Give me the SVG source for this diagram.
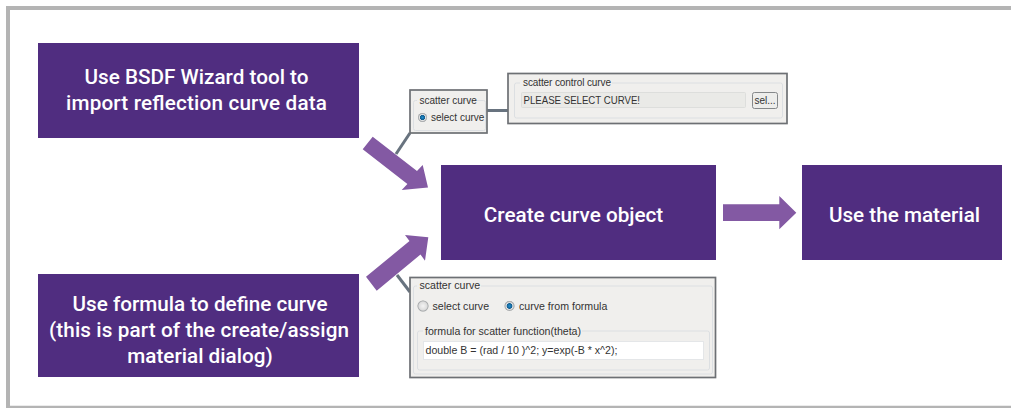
<svg xmlns="http://www.w3.org/2000/svg" width="1011" height="408" viewBox="0 0 1011 408">
<style>
.box{fill:#502d80}
.t{font-family:Roboto,"Liberation Sans",sans-serif;font-size:20.700px;font-weight:500;fill:#fff;text-anchor:middle}
.arrow{fill:#8359a3}
.panel{fill:#f0efed;stroke:#6d7074;stroke-width:1.700}
.link{fill:none;stroke:#68737f;stroke-width:3}
.ui{font-family:"Liberation Sans",Arial,sans-serif;font-size:10px;fill:#333}
.ui2{font-family:"Liberation Sans",Arial,sans-serif;font-size:10.600px;fill:#333}
.grp{fill:none;stroke:#dcdfe2;stroke-width:1}
.field{fill:#eaeae7;stroke:#dddedc}
.gap{fill:#f0efed}
</style>
<defs>
<radialGradient id="radioOn"><stop offset="0" stop-color="#1f8fd0"/><stop offset=".5" stop-color="#145f92"/><stop offset=".65" stop-color="#e8e8e8"/><stop offset="1" stop-color="#8f9396"/></radialGradient>
<radialGradient id="radioOff"><stop offset="0" stop-color="#f4f4f4"/><stop offset=".75" stop-color="#dcdcdc"/><stop offset="1" stop-color="#8f9396"/></radialGradient>
</defs>
<rect width="1011" height="408" fill="#fff"/>
<path d="M1011 8H8V408" fill="none" stroke="#b4b4b4" stroke-width="4"/>
<path d="M8 407H1011" fill="none" stroke="#b4b4b4" stroke-width="2.500"/>
<g id="connectors">
<path class="link" d="M410 133L396 154"/>
<path class="link" d="M487 110.500H508"/>
<path class="link" d="M397 275L410 292"/>
<polygon class="arrow" points="372.700,136.700 362.700,149.300 407.400,183.900 401.700,190 428,187.500 422.700,165 417,171.100"/>
<polygon class="arrow" points="366,276.700 376.700,290.700 420.500,254.500 425,260.700 428.300,237.300 405,235 409.500,241.100"/>
<polygon class="arrow" points="723,204.300 779.300,204.300 779.300,196 796.300,212.700 779.300,229.300 779.300,221 723,221"/>
</g>
<g id="node-bsdf"><rect class="box" x="38" y="43" width="321" height="95"/><text class="t" x="196.500" y="83.500">Use BSDF Wizard tool to</text><text class="t" x="196.500" y="109.500" textLength="261" lengthAdjust="spacing">import reflection curve data</text></g>
<g id="node-create"><rect class="box" x="441" y="165" width="275" height="95"/><text class="t" x="573.500" y="221.500">Create curve object</text></g>
<g id="node-use"><rect class="box" x="802" y="165" width="200" height="95"/><text class="t" x="904.500" y="221.500">Use the material</text></g>
<g id="node-formula"><rect class="box" x="38" y="274" width="321" height="103"/><text class="t" x="200" y="310.500">Use formula to define curve</text><text class="t" x="199" y="336.500" textLength="300" lengthAdjust="spacing">(this is part of the create/assign</text><text class="t" x="200" y="362.500">material dialog)</text></g>
<g id="panel-select">
<rect class="panel" x="410" y="90" width="77" height="43"/>
<rect class="grp" x="413.500" y="100.500" width="72" height="30" rx="2"/>
<rect class="gap" x="417" y="96" width="45" height="10"/>
<text class="ui" x="419.500" y="104">scatter curve</text>
<circle cx="422.500" cy="117.500" r="4.500" fill="url(#radioOn)"/>
<text class="ui" x="431" y="121">select curve</text>
</g>
<g id="panel-control">
<rect class="panel" x="508" y="73.500" width="279" height="50"/>
<rect class="grp" x="514.500" y="83" width="268" height="35" rx="2"/>
<rect class="gap" x="520" y="78" width="92" height="10"/>
<text class="ui" x="523" y="86" textLength="88" lengthAdjust="spacing">scatter control curve</text>
<rect class="field" x="521.500" y="92.500" width="224" height="15" rx="1"/>
<text class="ui" x="523.500" y="103.500" textLength="116.500" lengthAdjust="spacingAndGlyphs">PLEASE SELECT CURVE!</text>
<rect x="752.500" y="92.500" width="25" height="16" rx="2" fill="#ededeb" stroke="#85888a"/>
<text class="ui" x="754.500" y="104">sel...</text>
</g>
<g id="panel-formula">
<rect class="panel" x="410" y="277.500" width="305.500" height="100"/>
<rect class="grp" x="413.500" y="286" width="299" height="88" rx="2"/>
<rect class="gap" x="417" y="280" width="64" height="10"/>
<text class="ui2" x="419.500" y="289">scatter curve</text>
<circle cx="423" cy="306" r="5.500" fill="url(#radioOff)"/>
<text class="ui2" x="432.500" y="309.500">select curve</text>
<circle cx="509.500" cy="306" r="5" fill="url(#radioOn)"/>
<text class="ui2" x="519" y="309.500">curve from formula</text>
<rect class="grp" x="417.500" y="331" width="292" height="39" rx="2"/>
<rect class="gap" x="423" y="326" width="159" height="10"/>
<text class="ui2" x="425" y="335">formula for scatter function(theta)</text>
<rect x="423.500" y="341.500" width="280" height="18" fill="#fff" stroke="#e4e6e8"/>
<text class="ui2" x="425.500" y="354">double B = (rad / 10 )^2; y=exp(-B * x^2);</text>
</g>
</svg>
